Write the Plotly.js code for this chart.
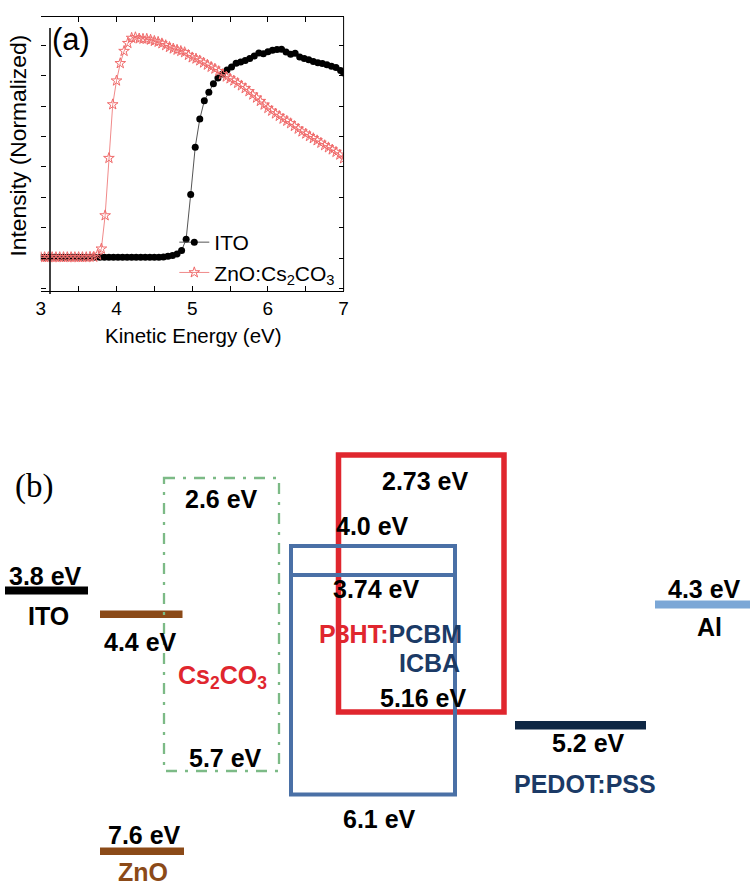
<!DOCTYPE html>
<html>
<head>
<meta charset="utf-8">
<script src="https://cdn.plot.ly/plotly-3.0.1.min.js"></script>
<style>html,body{margin:0;padding:0;background:#fff;}#chart{width:750px;height:882px;}</style>
</head>
<body>
<div id="chart"></div>
<script>
// ---------- Panel (a) data ----------
const itoX = [3.00,3.06,3.12,3.18,3.24,3.30,3.36,3.42,3.48,3.54,3.60,3.66,3.72,3.78,3.84,3.90,3.96,4.02,4.08,4.14,4.20,4.26,4.32,4.38,4.44,4.50,4.56,
  4.62,4.68,4.74,4.80,4.86,4.92,4.98,5.04,5.10,5.16,5.22,5.28,5.34,5.40,5.46,5.52,5.58,5.64,5.70,5.76,5.82,5.88,5.94,6.00,
  6.06,6.12,6.18,6.24,6.30,6.36,6.42,6.48,6.54,6.60,6.66,6.72,6.78,6.84,6.90,6.96,7.00];
const itoY = [0.04,0.04,0.04,0.04,0.04,0.04,0.04,0.04,0.04,0.04,0.04,0.04,0.04,0.04,0.04,0.04,0.04,0.04,0.04,0.04,0.04,0.04,0.04,0.04,0.04,0.04,0.04,
  0.05,0.07,0.10,0.15,0.26,0.63,2.10,3.65,4.57,5.17,5.45,5.73,5.92,6.05,6.18,6.28,6.40,6.44,6.49,6.56,6.64,6.74,6.71,6.78,
  6.83,6.85,6.86,6.77,6.70,6.73,6.61,6.56,6.52,6.46,6.42,6.39,6.35,6.30,6.26,6.16,6.08];
const znoX = [3.00,3.05,3.10,3.15,3.20,3.25,3.30,3.35,3.40,3.45,3.50,3.55,3.60,3.65,3.70,
  3.75,3.80,3.85,3.90,3.95,4.00,4.05,4.10,4.15,4.20,4.25,4.30,4.35,4.40,4.45,4.50,4.55,4.60,4.65,4.70,
  4.75,4.80,4.85,4.90,4.95,5.00,5.05,5.10,5.15,5.20,5.25,5.30,5.35,5.40,5.45,5.50,5.55,5.60,5.65,5.70,
  5.75,5.80,5.85,5.90,5.95,6.00,6.05,6.10,6.15,6.20,6.25,6.30,6.35,6.40,6.45,6.50,6.55,6.60,6.65,6.70,
  6.75,6.80,6.85,6.90,6.95,7.00];
const znoY = [0.04,0.04,0.04,0.04,0.04,0.04,0.04,0.04,0.04,0.04,0.04,0.04,0.04,0.05,0.05,
  0.12,0.32,1.41,3.29,5.05,5.83,6.40,6.80,7.06,7.23,7.25,7.21,7.20,7.20,7.17,7.13,7.10,7.05,6.99,6.93,
  6.88,6.84,6.80,6.76,6.67,6.59,6.55,6.49,6.42,6.35,6.28,6.22,6.14,6.04,5.96,5.90,5.83,5.75,5.67,5.58,
  5.48,5.37,5.27,5.16,5.04,4.93,4.84,4.75,4.67,4.58,4.51,4.43,4.34,4.25,4.16,4.09,4.01,3.94,3.87,3.79,
  3.71,3.64,3.57,3.49,3.40,3.28];
const seriesNames = ['ITO', 'ZnO:Cs<sub>2</sub>CO<sub>3</sub>'];
const xTickVals = [3,4,5,6,7];
const xTickText = ['3','4','5','6','7'];
const yTickVals = [-1,0,1,2,3,4,5,6,7];
const xTitle = 'Kinetic Energy (eV)';
const yTitle = 'Intensity (Normalized)';

// ---------- Panel (b) data (schematic energy levels) ----------
const levelText = ['3.8 eV','4.4 eV','7.6 eV','2.6 eV','5.7 eV','2.73 eV','4.0 eV','3.74 eV','5.16 eV','6.1 eV','5.2 eV','4.3 eV'];
const materialText = ['ITO','ZnO','Cs<sub>2</sub>CO<sub>3</sub>','P3HT:','PCBM','ICBA','PEDOT:PSS','Al'];

// ---------- layout geometry (diagram pixel coordinates) ----------
const W = 750, H = 882;
const levelPos = [[45.7,576],[140.7,641.7],[144,834.7],[221.7,499],[225.7,758],[425.7,480.8],[372.7,526],[376,588.7],[423.8,697.5],[379.2,818.7],[588.3,743.3],[704.2,588.7]];
const matPos = {ITO:[48.3,615.8], ZnO:[143.3,872], Cs:[222,676.5], Blend:[390,633.5], ICBA:[429.5,662.5], PEDOT:[585.3,783.8], Al:[709.2,627]};

const C = {red:'#e0262e', blue:'#4a70a6', navy:'#1b3a66', brown:'#8b4a18', green:'#7cba86', pedot:'#0e2744', al:'#7ba7d6'};
const sans = 'Liberation Sans, Arial, sans-serif';
const serif = 'Liberation Serif, Times New Roman, serif';

const traces = [
  {x: itoX, y: itoY, name: seriesNames[0], type: 'scatter', mode: 'lines+markers',
   line: {color: '#555', width: 1}, marker: {symbol: 'circle', size: 7, color: '#000'}},
  {x: znoX, y: znoY, name: seriesNames[1], type: 'scatter', mode: 'lines+markers',
   line: {color: '#f08a8a', width: 1}, marker: {symbol: 'star-open', size: 8, color: '#f06a6a', line: {width: 1, color: '#f06a6a'}}},
  {x: [], y: [], xaxis: 'x2', yaxis: 'y2', showlegend: false, hoverinfo: 'skip', type: 'scatter'}
];

function rect(x0,y0,x1,y1,fill){return {type:'rect',xref:'x2',yref:'y2',x0,y0,x1,y1,fillcolor:fill,line:{width:0},layer:'above'};}
function box(x0,y0,x1,y1,color,w,dash){return {type:'rect',xref:'x2',yref:'y2',x0,y0,x1,y1,fillcolor:'rgba(0,0,0,0)',line:{color,width:w,dash:dash||'solid'},layer:'above'};}
function seg(x0,y0,x1,y1,color,w){return {type:'line',xref:'x2',yref:'y2',x0,y0,x1,y1,line:{color,width:w},layer:'above'};}

const shapes = [
  seg(50,28,50,294,'#000',1.5),
  seg(343.6,16.7,343.6,291,'#000',1),
  rect(5,586.5,88,594.5,'#000'),
  rect(100,610.5,182.5,618,C.brown),
  rect(100,847.5,184,855,C.brown),
  box(164,478,279,771,C.green,2.3,'11px,8px,3px,8px'),
  box(338.5,455,504,712,C.red,5.5),
  box(291,546,455,794.5,C.blue,4),
  seg(291,575,455,575,C.blue,4),
  rect(515,721,646,729.5,C.pedot),
  rect(655,600.5,750,608.5,C.al)
];

function ann(text,pos,color,size,family,extra){
  return Object.assign({text, x:pos[0], y:pos[1], xref:'x2', yref:'y2', xanchor:'center', yanchor:'middle', showarrow:false,
    font:{family: family||sans, size: size||25, color: color||'#000', weight: 'bold'}}, extra||{});
}
const annotations = [];
levelText.forEach((t,i)=>annotations.push(ann(t, levelPos[i], '#000')));
annotations.push(ann(materialText[0], matPos.ITO, '#000'));
annotations.push(ann(materialText[1], matPos.ZnO, C.brown));
annotations.push(ann(materialText[2], matPos.Cs, C.red));
annotations.push(ann('<span style="color:'+C.red+'">'+materialText[3]+'</span>'+materialText[4], matPos.Blend, C.navy));
annotations.push(ann(materialText[5], matPos.ICBA, C.navy));
annotations.push(ann(materialText[6], matPos.PEDOT, C.navy));
annotations.push(ann(materialText[7], matPos.Al, '#000'));
// panel letters and axis titles
annotations.push({text:'(a)', x:71, y:39, xref:'x2', yref:'y2', xanchor:'center', yanchor:'middle', showarrow:false, font:{family:sans, size:31, color:'#000'}});
annotations.push({text:'(b)', x:34, y:486, xref:'x2', yref:'y2', xanchor:'center', yanchor:'middle', showarrow:false, font:{family:serif, size:33, color:'#000'}});
annotations.push({text:xTitle, x:193.3, y:335, xref:'x2', yref:'y2', xanchor:'center', yanchor:'middle', showarrow:false, font:{family:sans, size:20.5, color:'#000'}});
annotations.push({text:yTitle, x:17.5, y:146, xref:'x2', yref:'y2', xanchor:'center', yanchor:'middle', textangle:-90, showarrow:false, font:{family:sans, size:22.8, color:'#000'}});

const layout = {
  width: W, height: H, margin: {l:0, r:0, t:0, b:0}, paper_bgcolor: '#fff', plot_bgcolor: 'rgba(0,0,0,0)',
  font: {family: sans, color: '#000'},
  showlegend: true,
  legend: {x: 174.3/W, y: 1 - 222/H, xanchor: 'left', yanchor: 'top', bgcolor: 'rgba(0,0,0,0)', borderwidth: 0,
           font: {family: sans, size: 21, color: '#000'}, itemwidth: 30},
  xaxis: {domain: [40.8/W, 343.6/W], range: [3,7], anchor: 'y', tickmode: 'array', tickvals: xTickVals, ticktext: xTickText,
          ticks: 'inside', ticklen: 5, tickwidth: 1, tickcolor: '#000', showline: true, linecolor: '#000', linewidth: 1,
          minor: {dtick: 0.5, tick0: 3, ticks: 'inside', ticklen: 5, tickwidth: 1, tickcolor: '#000', showgrid: false},
          mirror: 'ticks', showgrid: false, zeroline: false, tickfont: {family: sans, size: 19, color: '#000'}, ticklabelstandoff: 0},
  yaxis: {domain: [(H-291)/H, (H-16.7)/H], range: [-1.066, 7.928], anchor: 'x', tickmode: 'array', tickvals: yTickVals,
          showticklabels: false, ticks: 'inside', ticklen: 5, tickwidth: 1, tickcolor: '#000', showline: false,
          mirror: 'ticks', showgrid: false, zeroline: false},
  xaxis2: {domain: [0,1], range: [0,W], anchor: 'y2', visible: false, fixedrange: true},
  yaxis2: {domain: [0,1], range: [H,0], anchor: 'x2', visible: false, fixedrange: true},
  shapes, annotations
};

Plotly.newPlot('chart', traces, layout, {staticPlot: true, displayModeBar: false});
</script>
</body>
</html>
